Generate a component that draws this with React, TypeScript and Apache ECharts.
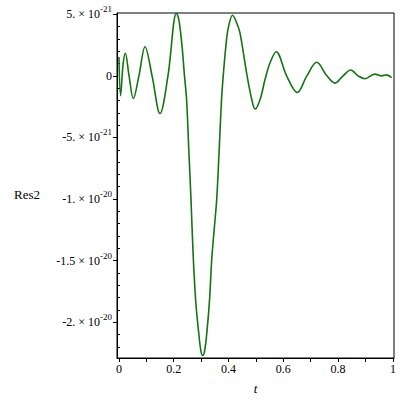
import React, { useEffect, useRef } from "react";
import * as echarts from "echarts";

// Res2 values are in units of 1e-21
const tValues = [
  0, 0.006, 0.015, 0.0234, 0.037, 0.0526, 0.073, 0.0953, 0.121, 0.15, 0.179, 0.21,
  0.219, 0.23, 0.239, 0.247, 0.255, 0.263, 0.2715, 0.281, 0.2905, 0.299, 0.306,
  0.313, 0.3215, 0.331, 0.339, 0.348, 0.357, 0.366, 0.3745, 0.381, 0.389, 0.399,
  0.415, 0.429, 0.442, 0.466, 0.485, 0.497, 0.515, 0.533, 0.551, 0.574, 0.612,
  0.651, 0.686, 0.722, 0.759, 0.789, 0.818, 0.846, 0.873, 0.898, 0.934, 0.959,
  0.977, 0.9956,
];
const res2Values = [
  1.53, -1.61, 0.89, 1.83, 0.0, -1.85, 0.0, 2.36, 0.0, -3.06, 0.0, 5.1,
  4.52, 2.5, 0.08, -1.94, -5.97, -10.0, -14.8, -18.5, -20.7, -22.3, -22.7,
  -22.3, -20.7, -18.1, -14.8, -12.4, -10.0, -5.97, -1.94, 0.08, 2.1, 3.87,
  4.92, 4.35, 3.47, 0.24, -1.94, -2.69, -1.94, -0.32, 1.02, 1.96, 0.0,
  -1.35, 0.0, 1.1, 0.0, -0.59, 0.0, 0.48, 0.0, -0.24, 0.14, 0.0,
  0.08, -0.14,
];

const xTickLabels = [0, 0.2, 0.4, 0.6, 0.8, 1];
const xTickAll = [0, 0.1, 0.2, 0.3, 0.4, 0.5, 0.6, 0.7, 0.8, 0.9, 1];
const yTickValues = [5, 0, -5, -10, -15, -20];
const yTickMantissa = ["5.", "0", "-5.", "-1.", "-1.5", "-2."];
const yTickExponent = ["-21", "", "-21", "-20", "-20", "-20"];
const yMinorTicks = [4, 3, 2, 1, -1, -2, -3, -4, -6, -7, -8, -9, -11, -12, -13, -14, -16, -17, -18, -19, -21, -22];

const SERIF = "Liberation Serif";

export default function App() {
  const ref = useRef<HTMLDivElement>(null);
  useEffect(() => {
    if (!ref.current) return;
    const chart = echarts.init(ref.current, undefined, { renderer: "svg" });
    const yMin = -22.9;
    const yMax = 5.1;
    chart.setOption({
      animation: false,
      backgroundColor: "#ffffff",
      textStyle: { fontFamily: SERIF },
      grid: {
        left: 117,
        right: 6,
        top: 13,
        bottom: 40,
        show: true,
        borderColor: "#000",
        borderWidth: 1,
        containLabel: false,
      },
      xAxis: {
        type: "value",
        min: -0.007,
        max: 1.004,
        name: "t",
        nameLocation: "middle",
        nameGap: 24,
        nameTextStyle: { fontFamily: SERIF, fontStyle: "italic", fontSize: 13, color: "#000" },
        axisLine: { show: true, onZero: false, lineStyle: { color: "#000", width: 1 } },
        axisTick: { show: true, inside: false, length: 4, customValues: xTickAll, lineStyle: { color: "#000" } },
        axisLabel: {
          customValues: xTickLabels,
          margin: 5,
          fontFamily: SERIF,
          fontSize: 12,
          color: "#000",
          formatter: (v: number) => String(v),
        },
        splitLine: { show: false },
      },
      yAxis: [
        {
          type: "value",
          min: yMin,
          max: yMax,
          position: "left",
          axisLine: { show: true, onZero: false, lineStyle: { color: "#000", width: 1 } },
          axisTick: { show: true, inside: false, length: 4, customValues: yTickValues, lineStyle: { color: "#000" } },
          axisLabel: {
            customValues: yTickValues,
            margin: 5,
            fontFamily: SERIF,
            fontSize: 12,
            color: "#000",
            formatter: (v: number) => {
              const i = yTickValues.indexOf(Math.round(v));
              if (i < 0) return "";
              if (!yTickExponent[i]) return "{m|" + yTickMantissa[i] + "}";
              return "{m|" + yTickMantissa[i] + " \u00d7 10}{s|" + yTickExponent[i] + "}";
            },
            rich: {
              m: { fontFamily: SERIF, fontSize: 12, color: "#000" },
              s: { fontFamily: SERIF, fontSize: 9, color: "#000", padding: [0, 0, 10, 0] },
            },
          },
          splitLine: { show: false },
        },
        {
          type: "value",
          min: yMin,
          max: yMax,
          position: "left",
          offset: 0,
          axisLine: { show: false, onZero: false },
          axisTick: { show: true, inside: true, length: 3, customValues: yMinorTicks, lineStyle: { color: "#000" } },
          axisLabel: { show: false },
          splitLine: { show: false },
        },
      ],
      graphic: [
        {
          type: "text",
          left: 14,
          top: 188,
          style: { text: "Res2", fontFamily: SERIF, fontSize: 13, fill: "#000" },
        },
      ],
      series: [
        {
          type: "line",
          yAxisIndex: 0,
          data: tValues.map((t, i) => [t, res2Values[i]]),
          showSymbol: false,
          smooth: 0.35,
          lineStyle: { color: "#127512", width: 1.6 },
        },
      ],
    });
    return () => chart.dispose();
  }, []);
  return (
    <div
      ref={ref}
      style={{ position: "fixed", left: 0, top: 0, width: 400, height: 400, background: "#fff" }}
    />
  );
}
